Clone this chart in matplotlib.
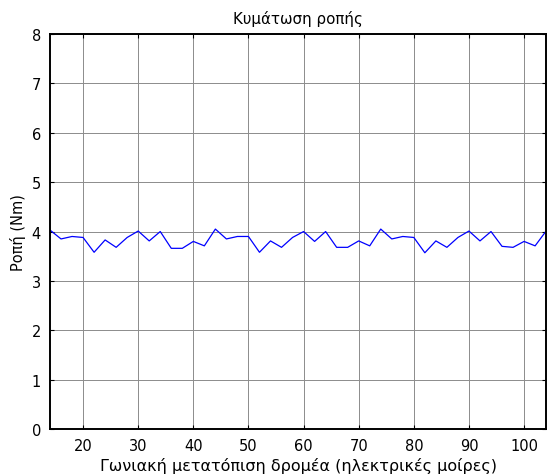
import matplotlib.pyplot as plt
import numpy as np

plt.rcParams['font.family'] = ['DejaVu Sans']

# γωνία (ηλεκτρικές μοίρες) και ροπή (Nm)
angle = list(range(14, 105, 2))
torque = [4.03, 3.85, 3.90, 3.88, 3.58, 3.83, 3.68, 3.88, 4.01, 3.81, 4.00, 3.66, 3.66, 3.80, 3.71,
          4.05, 3.85, 3.90, 3.90, 3.58, 3.81, 3.68, 3.88, 4.00, 3.80, 4.00, 3.68, 3.68, 3.81, 3.71,
          4.05, 3.85, 3.90, 3.88, 3.57, 3.81, 3.68, 3.88, 4.01, 3.81, 4.00, 3.70, 3.68, 3.80, 3.71,
          4.01]
xticks = [20, 30, 40, 50, 60, 70, 80, 90, 100]
yticks = [0, 1, 2, 3, 4, 5, 6, 7, 8]

fig = plt.figure(figsize=(5.47, 4.77), dpi=100)
ax = fig.add_axes([0.0914, 0.0985, 0.907, 0.828])

ax.plot(angle, torque, color='#0000ff', linewidth=0.9)

ax.set_xlim(14, 104)
ax.set_ylim(0, 8)
ax.set_xticks(xticks)
ax.set_yticks(yticks)
ax.grid(True, color='#8c8c8c', linewidth=0.7, linestyle='-')
ax.tick_params(direction='in', length=3, width=0.8, labelsize=10.5,
               top=True, right=True, pad=6.5)
for s in ax.spines.values():
    s.set_linewidth(1.4)

ax.set_title('Κυμάτωση ροπής', fontsize=10.8, pad=8)
ax.set_xlabel('Γωνιακή μετατόπιση δρομέα (ηλεκτρικές μοίρες)', fontsize=11.5, labelpad=3)
ax.set_ylabel('Ροπή (Nm)', fontsize=10.5, labelpad=4)

fig.savefig('out.png', dpi=100)
